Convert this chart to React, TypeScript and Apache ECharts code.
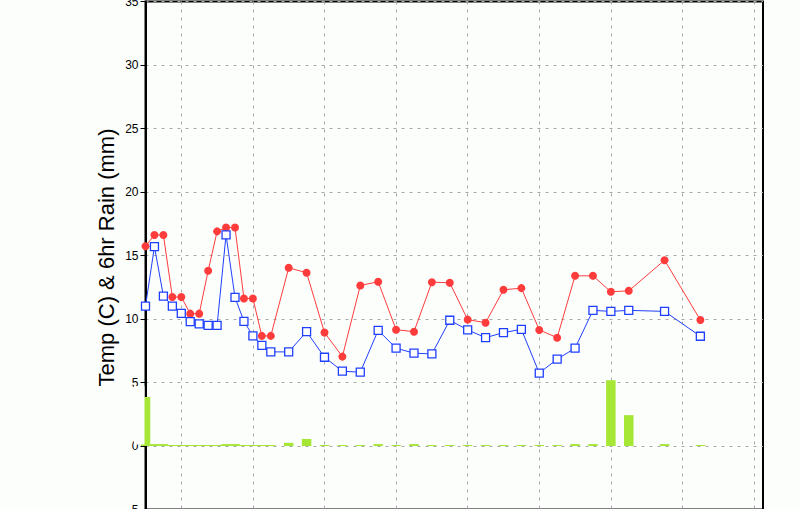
import React, { useEffect, useRef } from "react";
import * as echarts from "echarts";

// x positions are 3-hour slots; observations at these slots
const SLOT_COUNT = 70;
const obsSlot = [
  0, 1, 2, 3, 4, 5, 6, 7, 8, 9, 10, 11, 12, 13, 14,
  16, 18, 20, 22, 24, 26, 28, 30, 32, 34, 36, 38, 40, 42, 44, 46, 48, 50, 52, 54,
  58, 62,
];
const temperature = [
  15.73, 16.62, 16.62, 11.73, 11.73, 10.42, 10.42, 13.8, 16.9, 17.2, 17.2, 11.62, 11.62, 8.67, 8.67,
  14.03, 13.64, 8.93, 7.04, 12.64, 12.93, 9.16, 9.0, 12.9, 12.85, 9.95, 9.71, 12.3, 12.43, 9.14, 8.53, 13.4, 13.4, 12.14, 12.22,
  14.63, 9.92,
];
const dewPoint = [
  11.02, 15.7, 11.8, 11.02, 10.45, 9.79, 9.61, 9.5, 9.5, 16.62, 11.7, 9.82, 8.67, 7.93, 7.41,
  7.41, 9.0, 6.99, 5.89, 5.81, 9.11, 7.7, 7.31, 7.25, 9.9, 9.14, 8.53, 8.93, 9.19, 5.74, 6.84, 7.7, 10.68, 10.6, 10.68,
  10.6, 8.64,
];
const rain6hr = [
  3.86, 0.15, 0.15, 0.08, 0.08, 0.08, 0.08, 0.08, 0.08, 0.15, 0.15, 0.08, 0.08, 0.08, 0.08,
  0.25, 0.55, 0.08, 0.08, 0.08, 0.15, 0.08, 0.15, 0.08, 0.08, 0.08, 0.08, 0.08, 0.08, 0.08, 0.08, 0.15, 0.15, 5.18, 2.43,
  0.15, 0.08,
];
const Y_MIN = -5;
const Y_MAX = 35;
const Y_STEP = 5;
const AXIS_TITLE = "Temp (C) & 6hr Rain (mm)";
const BG = "#fcfefc";

export default function App() {
  const ref = useRef<HTMLDivElement>(null);

  useEffect(() => {
    if (!ref.current) return;
    const chart = echarts.init(ref.current, null, { renderer: "svg" });
    const slots = Array.from({ length: SLOT_COUNT }, (_, i) => String(i));
    const grey = "#a8a8a8";

    chart.setOption({
      animation: false,
      backgroundColor: BG,
      grid: {
        left: 145.5,
        top: 1.5,
        width: 617.5,
        height: 508,
        containLabel: false,
        outerBoundsMode: "none",
        show: true,
        borderColor: "#000",
        borderWidth: 2,
        backgroundColor: "transparent",
      },
      xAxis: {
        type: "category",
        data: slots,
        boundaryGap: false,
        axisLine: { show: false },
        axisTick: { show: false },
        axisLabel: { show: false },
        splitLine: {
          show: true,
          interval: (i: number) => i % 8 === 4,
          lineStyle: { color: grey, type: [3, 5], width: 1 },
        },
      },
      yAxis: {
        type: "value",
        min: Y_MIN,
        max: Y_MAX,
        interval: Y_STEP,
        axisLine: { show: true, lineStyle: { color: "#000", width: 2 } },
        axisTick: { show: true, length: 5, lineStyle: { color: "#000", width: 1 } },
        axisLabel: {
          color: "#000",
          fontFamily: "Liberation Sans",
          fontSize: 12,
          margin: 7,
        },
        splitLine: { show: true, lineStyle: { color: grey, type: [3, 5], width: 1 } },
      },
      graphic: [
        {
          // mask the half of the first rain bar that falls left of the plot frame
          type: "rect",
          z: 100,
          shape: { x: 134, y: 386, width: 10.5, height: 58.5 },
          style: { fill: BG },
        },
        {
          type: "text",
          x: 106.5,
          y: 257.5,
          rotation: Math.PI / 2,
          style: {
            text: AXIS_TITLE,
            fontFamily: "Liberation Sans",
            fontSize: 22,
            fill: "#000",
            align: "center",
            verticalAlign: "middle",
            textAlign: "center",
            textVerticalAlign: "middle",
          },
        },
      ],
      series: [
        {
          type: "bar",
          data: obsSlot.map((s, k) => [s, rain6hr[k]]),
          barWidth: 9.5,
          clip: true,
          itemStyle: { color: "#a6e635" },
          z: 1,
        },
        {
          type: "line",
          data: obsSlot.map((s, k) => [s, dewPoint[k]]),
          symbol: "rect",
          symbolSize: 8,
          showAllSymbol: true,
          lineStyle: { color: "#1f3fff", width: 1 },
          itemStyle: { color: "#ffffff", borderColor: "#1f3fff", borderWidth: 1.3 },
          z: 3,
        },
        {
          type: "line",
          data: obsSlot.map((s, k) => [s, temperature[k]]),
          symbol: "circle",
          symbolSize: 8,
          showAllSymbol: true,
          lineStyle: { color: "#ff3c3c", width: 1 },
          itemStyle: { color: "#ff3c3c", borderWidth: 0 },
          z: 2,
        },
      ],
    });

    return () => chart.dispose();
  }, []);

  return (
    <div
      ref={ref}
      style={{ position: "fixed", left: 0, top: 0, width: 800, height: 509 }}
    />
  );
}
